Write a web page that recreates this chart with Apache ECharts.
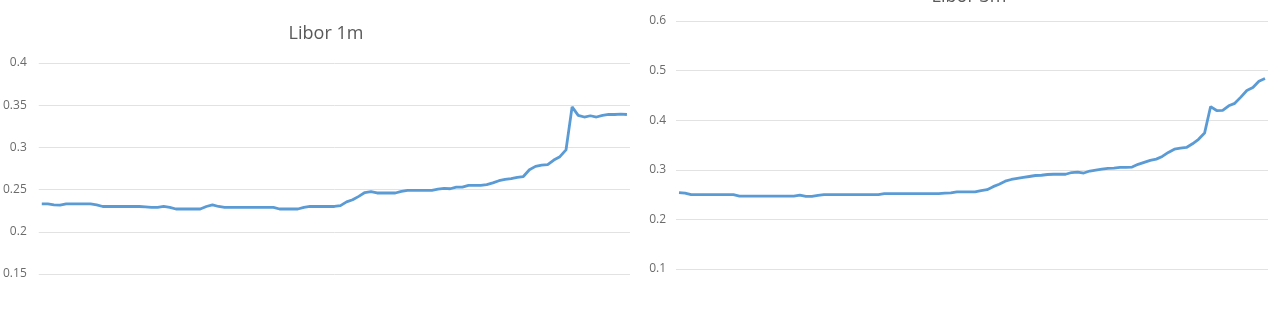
<!DOCTYPE html>
<html>
<head>
<meta charset="utf-8">
<script src="https://cdn.jsdelivr.net/npm/echarts@6/dist/echarts.min.js"></script>
<style>
html,body{margin:0;padding:0;background:#fff;}
#c{width:1276px;height:311px;}
</style>
</head>
<body>
<div id="c"></div>
<script>
const title1 = "Libor 1m";
const title2 = "Libor 3m";

const libor1m = [
0.233,0.233,0.232,0.2315,0.233,0.233,0.233,0.233,0.233,0.232,
0.230,0.230,0.230,0.230,0.230,0.230,0.230,0.2295,0.229,0.229,
0.230,0.229,0.227,0.227,0.227,0.227,0.227,0.230,0.232,0.230,
0.229,0.229,0.229,0.229,0.229,0.229,0.229,0.229,0.229,0.227,
0.227,0.227,0.227,0.229,0.230,0.230,0.230,0.230,0.230,0.231,
0.2355,0.238,0.242,0.2465,0.2475,0.246,0.246,0.246,0.246,0.248,
0.249,0.249,0.249,0.249,0.249,0.2505,0.2515,0.251,0.253,0.253,
0.255,0.255,0.255,0.256,0.258,0.2605,0.262,0.263,0.2645,0.2655,
0.2735,0.2775,0.279,0.2795,0.285,0.289,0.297,0.348,0.338,0.336,
0.3375,0.336,0.338,0.339,0.339,0.3395,0.339
];

const libor3m = [
0.254,0.253,0.250,0.250,0.250,0.250,0.250,0.250,0.250,0.250,
0.247,0.247,0.247,0.247,0.247,0.247,0.247,0.247,0.247,0.247,
0.249,0.2465,0.2465,0.2485,0.250,0.250,0.250,0.250,0.250,0.250,
0.250,0.250,0.250,0.250,0.252,0.252,0.252,0.252,0.252,0.252,
0.252,0.252,0.252,0.252,0.253,0.2535,0.2555,0.2555,0.2555,0.2555,
0.258,0.260,0.266,0.271,0.277,0.2805,0.2825,0.2845,0.2865,0.2885,
0.289,0.2905,0.291,0.291,0.291,0.2945,0.2955,0.2935,0.2975,0.2995,
0.3015,0.303,0.3035,0.305,0.305,0.3055,0.311,0.315,0.319,0.3215,
0.327,0.335,0.3415,0.3435,0.345,0.3525,0.3615,0.374,0.4275,0.4195,
0.420,0.429,0.434,0.4465,0.460,0.466,0.4785,0.484
];

const cats1 = libor1m.map((_, i) => i + 1);
const cats2 = libor3m.map((_, i) => i + 1);

const FONT = "Open Sans";
const labelColor = "#6b6b6b";
const gridColor = "#e2e2e2";
const lineColor = "#5b9bd5";

const chart = echarts.init(document.getElementById('c'));
chart.setOption({
  backgroundColor: '#fff',
  animation: false,
  title: [
    { text: title1, left: 321, top: 20, textAlign: 'center',
      textStyle: { fontFamily: FONT, fontSize: 18, fontWeight: 'normal', color: '#595959' } },
    { text: title2, left: 964, top: -17, textAlign: 'center',
      textStyle: { fontFamily: FONT, fontSize: 18, fontWeight: 'normal', color: '#595959' } }
  ],
  grid: [
    { left: 38, top: 63, width: 592, height: 211 },
    { left: 676, top: 21, width: 592, height: 248 }
  ],
  xAxis: [
    { type: 'category', gridIndex: 0, data: cats1, boundaryGap: true,
      axisLine: { show: false }, axisTick: { show: false }, axisLabel: { show: false } },
    { type: 'category', gridIndex: 1, data: cats2, boundaryGap: true,
      axisLine: { show: false }, axisTick: { show: false }, axisLabel: { show: false } }
  ],
  yAxis: [
    { type: 'value', gridIndex: 0, min: 0.15, max: 0.4, interval: 0.05,
      axisLine: { show: false }, axisTick: { show: false },
      axisLabel: { margin: 12, fontFamily: FONT, fontSize: 12, color: labelColor },
      splitLine: { lineStyle: { color: gridColor, width: 1 } } },
    { type: 'value', gridIndex: 1, min: 0.1, max: 0.6, interval: 0.1,
      axisLine: { show: false }, axisTick: { show: false },
      axisLabel: { margin: 10, fontFamily: FONT, fontSize: 12, color: labelColor },
      splitLine: { lineStyle: { color: gridColor, width: 1 } } }
  ],
  series: [
    { type: 'line', xAxisIndex: 0, yAxisIndex: 0, data: libor1m, showSymbol: false,
      lineStyle: { color: lineColor, width: 2.8 } },
    { type: 'line', xAxisIndex: 1, yAxisIndex: 1, data: libor3m, showSymbol: false,
      lineStyle: { color: lineColor, width: 2.8 } }
  ]
});
</script>
</body>
</html>
